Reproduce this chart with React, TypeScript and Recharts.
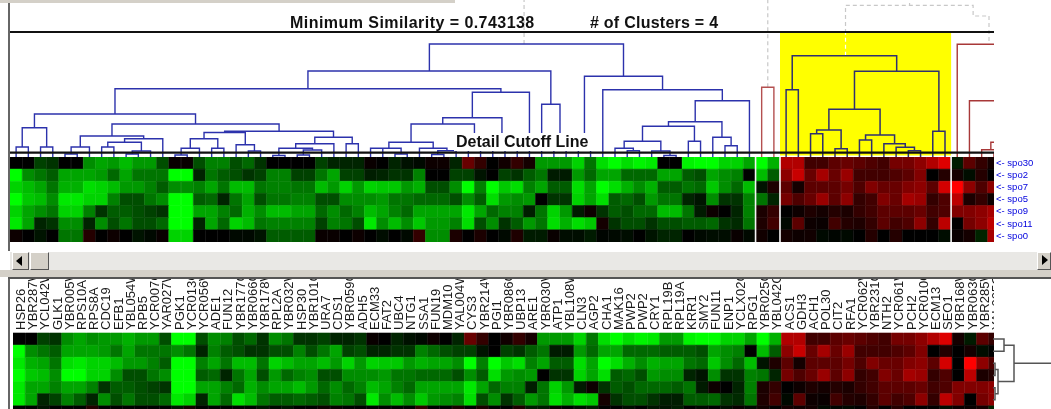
import React from "react";
import {
  BarChart,
  Bar,
  Cell,
  LineChart,
  Line,
  XAxis,
  YAxis,
  ReferenceArea,
} from "recharts";

const genes = [
  "HSP26", "YBR287W", "YCL042W", "GLK1", "YBR005W", "RPS10A", "RPS8A", "CDC19", "EFB1", "YBL054W",
  "RPB5", "YCR007C", "YAR027W", "PGK1", "YCR013C", "YCR056W", "ADE1", "FUN12", "YBR177C", "YBR066C",
  "YBR178W", "RPL2A", "YBR032W", "HSP30", "YBR101C", "URA7", "CDS1", "YBR059C", "ADH5", "ECM33",
  "FAT2", "UBC4", "NTG1", "SSA1", "FUN19", "MDM10", "YAL004W", "CYS3", "YBR214W", "PGI1",
  "YBR086C", "UBP13", "ARE1", "YBR030W", "ATP1", "YBL108W", "CLN3", "AGP2", "CHA1", "MAK16",
  "PWP2", "PWP2", "CRY1", "RPL19B", "RPL19A", "KRR1", "SMY2", "FUN11", "ENP1", "YCLX02C",
  "RPG1", "YBR025C", "YBL042C", "ACS1", "GDH3", "ACH1", "POL30", "CIT2", "RFA1", "YCR062W",
  "YBR231C", "NTH2", "YCR061W", "PCH2", "YCR010C", "ECM13", "SEO1", "YBR168W", "YBR063C", "YBR285W",
  "YAL005C",
];

const spoLabels = ["spo30", "spo2", "spo7", "spo5", "spo9", "spo11", "spo0"];

// one list per gene, one value per spo row: negative is green, positive is red
const topCells = [
  [0, -10, -8, -10, -8, -9, 0.3], [0, -5, -7, -7.5, -6, -6, 0], [-2, -4, -6, -7, -5, -1, -0.5],
  [-1.5, -3, -4, -5, -4, -1.5, 0], [0, -6, -6.5, -9, -8, -5, -4], [0, -6, -6.5, -9, -8, -5, -4],
  [-5, -6, -8.5, -8, -4.5, -1, 1], [-6, -5.5, -8, -8, -1.5, -5, 0], [-5.5, -3.5, -7, -4.5, -3, -2.5, 0.3],
  [-7, -6, -5.5, -2.5, -3, -4, 0], [-5.5, -4, -5.5, -2.5, -2.5, -2.5, -0.5], [-5.5, -4, -4.5, -4, -2, -2.5, -0.2],
  [-2.5, -4, -3, -5, -1.5, -3.5, 0.2], [0.2, -10, -5, -10, -10, -10, -8], [0.2, -10, -5, -10, -10, -10, -8],
  [-2.5, -1, -4.5, -3, -6, -1, 0], [-4.5, -4, -6, -3.5, -6, -6, 0], [-4.5, -3, -4, -1, -4.5, -3.5, 0],
  [-2.5, -2.5, -7, -4, -3.5, -8, -0.2], [-3.5, -1.5, -7, -6, -6.5, -7, -0.2], [-1.5, -2, -4, -2.5, -5, -4, -0.5],
  [0, -4.5, -4.5, -4, -7, -4.5, -3], [0, -4.5, -4.5, -4, -7, -4.5, -3], [0, -2, -4, -4.5, -6, -4.5, -3],
  [0, -2, -4, -4.5, -6, -4.5, -3], [-2, -4, -7, -2.5, -3.5, -2, 0.2], [-1, -6, -5.5, -2.5, -5, -4.5, 0.2],
  [-1, -2, -8, -5, -3.5, -4, 0], [-1, -2, -5.5, -5, -4.5, -2.5, 0.3], [0.2, -0.8, -8, -5, -7, -9, 0],
  [0, -1, -7.5, -5.5, -6, -5, -0.3], [-1, -1.5, -7.5, -4, -4.5, -7, 0], [-0.4, -1.5, -5.5, -4, -3.5, -5, -0.2],
  [-0.2, -4.5, -6.5, -3.5, -6, -7.5, 1.5], [0.3, 0, -2.5, -3.5, -6, -5.5, -5], [0.3, 0, -2.5, -3.5, -6, -5.5, -5],
  [-1, -2, -5, -2.5, -6, -4.5, 0.7], [3.5, -2, -10, -5, -9, -8.5, 0], [1.5, -0.5, -4.5, -3, -6, -2.5, 0.7],
  [0, 0, -10, -8.5, -3.5, -5, 0], [0.4, -2, -7.5, -5.5, -4.5, -1.5, -0.2], [1.5, -1.5, -8.5, -5, -4.5, -3, 0.8],
  [0.5, -3, -4.5, -5.5, -0.8, -5.5, -0.7], [-5.5, -4, -6, 0, -4, -4, -0.7], [-5.5, -0.7, -3, -1.5, -8, -8.5, 0.2],
  [-5.5, -0.7, -3, -1.5, -5.5, -6.5, -0.3], [-8, -5.5, -8.5, -8, -0.7, -8.5, -0.3], [-4, -3.5, -6, -6, 0.3, -7.5, -0.7],
  [-8.5, -6, -10, -8.5, -1.5, 0.5, -0.1], [-10, -6, -8.5, -3, -3, -1.5, -0.2], [-8.5, -3.5, -6.5, -3.5, -2.5, -2.5, -0.3],
  [-9.5, -3.5, -5, -2.5, -3.5, -2.5, 0], [-9, -3.5, -6.5, -5.5, -3.5, -1.5, -0.5], [0, -6, -3, -4, -7, -2.5, -1],
  [0, -6, -3, -4, -7, -2.5, -1], [-9.5, -3, -4, -1, -4, -3, 0], [-10, -2.5, -3.5, -0.5, -0.7, -3, -0.2],
  [-10, -6, -7.5, -5, 0.3, -3.5, -0.3], [-8, -5, -5, -1.5, 0, -1.5, -0.3], [-8, -4.5, -3.5, -1.5, -1, -1.2, 0.2],
  [-6, 0, -7, -4.5, -4.5, -4, -0.2], [-10, -7, -0.5, -4, 0.7, 0.8, 0.4], [-6.5, -3, 0.8, -1, 1.5, 2, 0],
  [6.5, 5, 3, 4, 0, -0.2, 0.5], [6.5, 7.5, 0.5, 2.5, 0.3, 3, 0.3], [2, 3.5, 3, 3.5, 0.8, 0.3, 0.4],
  [2, 6, 3, 5.5, 0.5, 0.2, -0.2], [3, 3.5, 3, 3, 1, 2, -0.1], [3.5, 5.5, 4, 5, 0.7, 1, -0.2],
  [3, 2, 2.5, 1.5, 1.5, 0.8, 0], [2.5, 2, 4.5, 2, 2, 1.5, 1], [2, 2, 3.5, 4.5, 3, 3, 0],
  [4, 2.5, 3.5, 3.5, 3, 2, 1], [4, 3, 4.5, 6, 3, 2.5, 0], [5, 4.5, 5, 5.5, 3.5, 5, 0],
  [6.5, 0, 3, 1.5, 2, 1.5, 0], [8.5, 1, 8, 2.5, 2.5, 7, -0.3], [-0.7, 0.5, 10, 7, 4.5, 0, 0.2],
  [3, -0.3, 5, 0.7, 4.5, 4, 0.5], [1.5, 1, 2.5, 1.5, 5, 5, -1], [0.5, 0, 5, 0.3, 6, 7, 6],
];

const bottomCells = [
  [0, -10, -9, -10, -9, -9, 0], [0, -5, -6.5, -7.5, -6, -6, 0], [-2, -4, -6, -7, -6, -1, -0.5],
  [-1.5, -3, -4, -5, -4.5, -2, 0], [-5, -6, -8.5, -10, -6, -4.5, 0], [-6, -6, -9, -10, -6, -3, 0],
  [-5, -6, -8, -8, -4.5, -1, 1], [-5.5, -5.5, -8, -8, -1.5, -5, 0], [-5.5, -4, -7, -5, -3, -2.5, 0],
  [-6.5, -6, -5.5, -2.5, -3, -4, 0], [-5.5, -4, -5.5, -2.5, -2.5, -2.5, 0], [-5.5, -4, -4.5, -4, -2, -2.5, 0],
  [-2.5, -4, -3, -5, -1.5, -3.5, 0], [-10, -5, -10, -10, -10, -9, -0.5], [-10, -4, -10, -10, -10, -8, 0.5],
  [-2.5, -1, -4.5, -3, -6, -1, 0], [-5, -4.5, -6, -3.5, -6, -6, 0], [-4.5, -3, -4, -1, -4.5, -3.5, 0],
  [-2.5, -2.5, -7, -4, -3.5, -8.5, 0], [-3.5, -1.5, -7, -6, -6.5, -7, 0], [-1.5, -1.5, -4, -2.5, -5, -4, -0.5],
  [-5, -2.5, -8, -5.5, -6, -3, -0.2], [-4, -2.5, -7, -3.5, -6, -3, -0.5], [-1.5, -4.5, -6, -4.5, -7, -3.5, 0],
  [-1.5, -2.5, -6, -5, -5.5, -3, 0], [-2, -4, -7, -2.5, -3.5, -2.5, 0.3], [-1, -6, -5.5, -2.5, -5, -4.5, 0.2],
  [-1, -2, -8, -5, -3.5, -4, 0], [-1.5, -2.5, -5.5, -5, -4.5, -2.5, 0], [0.2, -1, -8, -5, -7, -9, 0],
  [0, -1, -7.5, -5.5, -6, -5, 0], [-1, -1.5, -7.5, -4, -4.5, -7, 0], [-0.4, -1.5, -5.5, -4, -3.5, -5, 0],
  [-0.2, -4.5, -6.5, -3.5, -6, -7.5, 1.5], [0.3, -3.5, -6, -3.5, -6, -5.5, 0], [0, -2.5, -6, -3.5, -6, -5, 0],
  [-1, -2, -5, -2.5, -6, -4.5, 0.7], [3.5, -2, -10, -5, -9, -8.5, 0], [1.5, -0.5, -4.5, -3, -6, -2.5, 0.7],
  [0, 0, -10, -8.5, -3.5, -5, 0], [0.4, -2, -7.5, -5.5, -4.5, -1.5, 0], [1.5, -1.5, -8.5, -5, -4.5, -3, 0.8],
  [0.5, -3, -4.5, -5.5, -0.8, -5.5, -0.7], [-5.5, -4, -6, 0, -4, -4, -0.7], [-5.5, -0.7, -3, -1.5, -8, -8.5, 0.2],
  [-5.5, -0.7, -3, -1.5, -5.5, -6.5, 0], [-8, -5.5, -8.5, -8, -0.7, -8.5, -0.3], [-4, -3.5, -6, -6, 0.3, -7.5, -0.7],
  [-8.5, -6, -10, -8.5, -1.5, 0.5, 0], [-10, -6, -8.5, -3, -3, -1.5, 0], [-8.5, -3.5, -6.5, -3.5, -2.5, -2.5, -0.3],
  [-9.5, -3.5, -5, -2.5, -3.5, -2.5, 0], [-9, -3.5, -6.5, -5.5, -3.5, -1.5, -0.5], [-5.5, -3, -6, -5, -3.5, -0.8, -0.5],
  [-5.5, -3, -6, -5, -3, -0.8, -0.8], [-9.5, -3, -4, -1, -4, -3, 0], [-10, -2.5, -3.5, -0.5, -0.7, -3, -0.2],
  [-10, -6, -7.5, -5, 0.3, -3.5, 0], [-8, -5, -5, -1.5, 0, -1.5, -0.3], [-8, -4.5, -3.5, -1.5, -1, -1.2, 0.2],
  [-6, 0, -7, -4.5, -4.5, -4, -0.2], [-10, -7, -0.5, -4, 0.7, 0.8, 0.4], [-6.5, -3, 0.8, -1, 1.5, 2, 0],
  [6.5, 5, 3, 4, 0, -0.2, 0.5], [6.5, 7.5, 0.5, 2.5, 0.3, 3, 0.3], [2, 3.5, 3, 3.5, 0.8, 0.3, 0.4],
  [2, 6, 3, 5.5, 0.5, 0.2, -0.2], [3, 3.5, 3, 3, 1, 2, -0.1], [3.5, 5.5, 4, 5, 0.7, 1, -0.2],
  [3, 2, 2.5, 1.5, 1.5, 0.8, 0], [2.5, 2, 4.5, 2, 2, 1.5, 1], [2, 2, 3.5, 4.5, 3, 3, 0],
  [4, 2.5, 3.5, 3.5, 3, 2, 1], [4, 3, 4.5, 6, 3, 2.5, 0], [5, 4.5, 5, 5.5, 3.5, 5, 0],
  [6.5, 0, 3, 1.5, 2, 1.5, 0], [8.5, 1, 8, 2.5, 2.5, 7, -0.3], [0.5, 0, 0, 0, 4.5, 4.5, 0.2],
  [-0.7, 0.5, 10, 7, 4.5, 0, 0.2], [3, -0.3, 5, 0.7, 4.5, 4, 0.5], [1.5, 0, 2.5, 1, 5, 5, -1],
];

// cluster trees: [height, left, right], a plain number is a leaf column
const blueTree = [113,
  [86,
    [68.3,
      [43,
        [29.3, [10, 0, 1], [10, 2, 3]],
        [33,
          [21, [10, [3, 4, 5], 6], [18.3, [14.7, [10, 7, 8], [6, [3, 9, 10], 11]], 12]],
          [25.7,
            [24.5, [18.3, [8.7, [2, 13, 14], 15], [8.7, 16, 17]], [12.3, 18, [6, 19, 20]]],
            [19.7, [13.3, [8.7, [1.5, 21, 22], [7, [2, 23, 24], 25]], 26], [13.3, 27, 28]],
          ],
        ],
      ],
      [64.7,
        [39.3,
          [33,
            [14.7, [8.7, [8.7, 29, 30], [3, 31, 32]], [8.7, 33, [6.3, [2.5, 34, 35], 36]]],
            [17, 37, 38],
          ],
          [17, 39, [12, 40, 41]],
        ],
        42,
      ],
    ],
    [52.7, 43, [17, 44, 45]],
  ],
  [80.7,
    [17, 46, 47],
    [67.3,
      48,
      [56.3,
        [35.3,
          [30.7,
            [15.7, [8.7, 49, [6.3, 50, 51]], [6, 52, [1.5, 53, 54]]],
            [15.7, 55, 56],
          ],
          [19.7, 57, [11.3, 58, 59]],
        ],
        60,
      ],
    ],
  ],
];
const smallTree = [69.7, 61, 62];
const yellowTree = [101.3,
  [67.3, 63, 64],
  [85.7,
    [47.7,
      [27, [23.3, 65, 66], [8.3, 67, 68]],
      [22, [17, 69, 70], [13.3, 71, [9.7, 72, [6.3, 73, 74]]]],
    ],
    [25.7, 75, 76],
  ],
];
const rightTree = [112.7, 77, [56.3, 78, [40, [14.7, [7.3, 79, [3, 80, 81]], 82], 91]]];
const rowTree = [21, [11, 0, 1], [5, [2, 2, 3], [2, 4, 5]]];

// links above the 0.743 cutoff, read as [column, height]
const upperLinks = [
  [[42.06, 113], [42.06, 157]],
  [[62, 69.7], [62, 157]],
  [[68.36, 124], [68.36, 151.7], [78.8, 151.7], [78.8, 141], [80.1, 141], [80.1, 113]],
  [[73.6, 151.7], [73.6, 154]],
];
const yellowLink = [[68.36, 101.3], [68.36, 124]];
const clusterEdges = [61, 63, 77];
const similarityLineHeight = 125;
const detailLineHeight = 4.3;

type Point = { col: number; h: number | null };

// walks a tree and lists its elbows, with a null after each one to break the line
const treePoints = (node: any, out: Point[] = []): { pos: number; h: number } => {
  if (typeof node === "number") return { pos: node + 0.5, h: 0 };
  const [h, leftNode, rightNode] = node;
  const left = treePoints(leftNode, out);
  const right = treePoints(rightNode, out);
  out.push(
    { col: left.pos, h: left.h },
    { col: left.pos, h },
    { col: right.pos, h },
    { col: right.pos, h: right.h },
    { col: right.pos, h: null }
  );
  return { pos: (left.pos + right.pos) / 2, h };
};

const treeLine = (tree: any) => {
  const out: Point[] = [];
  treePoints(tree, out);
  return out;
};

const linkLine = (links: number[][][]) =>
  links.flatMap((link) => [
    ...link.map(([col, h]) => ({ col, h })),
    { col: link[0][0], h: null },
  ]);

const cellColor = (v: number) => {
  const level = Math.round(255 * Math.pow(Math.abs(v) / 10, 0.85));
  return v < 0 ? `rgb(0,${level},0)` : `rgb(${level},0,0)`;
};

const GeneTick = ({ x, payload }: any) => (
  <text
    x={x + 6}
    y={51}
    transform={`rotate(-90 ${x + 6} 51)`}
    fontFamily="Liberation Sans"
    fontSize={13}
    fill="#1a1a1a"
  >
    {payload.value}
  </text>
);

const HeatMap = ({ cells, width, height, labelled }: any) => {
  const table = genes.map((gene) => {
    const row: any = { gene };
    spoLabels.forEach((label) => (row[label] = 1));
    return row;
  });
  return (
    <BarChart
      width={width}
      height={height}
      data={table}
      barCategoryGap={0}
      margin={{ top: 0, right: 0, bottom: 0, left: 0 }}
    >
      <XAxis
        dataKey="gene"
        orientation="top"
        hide={!labelled}
        height={54}
        axisLine={false}
        tickLine={false}
        interval={0}
        tick={<GeneTick />}
      />
      <YAxis hide reversed type="number" domain={[0, 7]} />
      {spoLabels.map((label, row) => (
        <Bar key={label} dataKey={label} stackId="heat" isAnimationActive={false}>
          {/* the stroke closes the seams that the floored bar width leaves */}
          {cells.map((column: number[], i: number) => (
            <Cell key={i} fill={cellColor(column[row])} stroke={cellColor(column[row])} strokeWidth={0.6} />
          ))}
        </Bar>
      ))}
    </BarChart>
  );
};

const Dendrogram = () => (
  <LineChart width={990} height={242} margin={{ top: 0, right: 0, bottom: 0, left: 0 }}>
    <XAxis hide type="number" dataKey="col" domain={[0, 81]} allowDataOverflow />
    <YAxis hide type="number" domain={[-85, 157]} allowDataOverflow />
    <ReferenceArea x1={63} x2={77} y1={1.5} y2={124} fill="#ffff00" fillOpacity={1} stroke="none" />
    <Line
      data={linkLine(clusterEdges.map((col) => [[col, 0], [col, -85]]))}
      dataKey="h"
      stroke="#f4f4f4"
      strokeWidth={1.6}
      dot={false}
      isAnimationActive={false}
    />
    <Line
      data={linkLine(upperLinks)}
      dataKey="h"
      stroke="#c8c8c8"
      strokeWidth={1.2}
      strokeDasharray="4 3"
      dot={false}
      isAnimationActive={false}
    />
    <Line
      data={linkLine([yellowLink])}
      dataKey="h"
      stroke="#ffffff"
      strokeWidth={1.2}
      strokeDasharray="4 3"
      dot={false}
      isAnimationActive={false}
    />
    <Line data={treeLine(blueTree)} dataKey="h" stroke="#2c32ac" strokeWidth={1.4} dot={false} isAnimationActive={false} />
    <Line data={treeLine(yellowTree)} dataKey="h" stroke="#2f3070" strokeWidth={1.5} dot={false} isAnimationActive={false} />
    <Line data={treeLine(smallTree)} dataKey="h" stroke="#b45050" strokeWidth={1.4} dot={false} isAnimationActive={false} />
    <Line data={treeLine(rightTree)} dataKey="h" stroke="#a83838" strokeWidth={1.4} dot={false} isAnimationActive={false} />
    <Line
      data={linkLine([[[0, similarityLineHeight], [81, similarityLineHeight]]])}
      dataKey="h"
      stroke="#111111"
      strokeWidth={2.2}
      dot={false}
      isAnimationActive={false}
    />
    <Line
      data={linkLine([[[0, detailLineHeight], [81, detailLineHeight]]])}
      dataKey="h"
      stroke="#111111"
      strokeWidth={2.2}
      dot={false}
      isAnimationActive={false}
    />
  </LineChart>
);

// the small tree of the spo rows, to the right of the lower map
const RowTree = () => {
  const walk = (node: any, out: any[]): { pos: number; h: number } => {
    if (typeof node === "number") return { pos: node + 0.5, h: 0 };
    const [h, a, b] = node;
    const left = walk(a, out);
    const right = walk(b, out);
    out.push(
      { depth: left.h, row: left.pos },
      { depth: h, row: left.pos },
      { depth: h, row: right.pos },
      { depth: right.h, row: right.pos },
      { depth: right.h, row: null }
    );
    return { pos: (left.pos + right.pos) / 2, h };
  };
  const points: any[] = [];
  const root = walk(rowTree, points);
  points.push({ depth: root.h, row: root.pos }, { depth: 58, row: root.pos });
  return (
    <LineChart width={58} height={85} margin={{ top: 0, right: 0, bottom: 0, left: 0 }}>
      <XAxis hide type="number" dataKey="depth" domain={[0, 58]} />
      <YAxis hide reversed type="number" domain={[0, 7]} />
      <Line data={points} dataKey="row" stroke="#555555" strokeWidth={1.5} dot={false} isAnimationActive={false} />
    </LineChart>
  );
};

const titleFont: React.CSSProperties = {
  position: "absolute",
  fontFamily: "Liberation Sans",
  fontWeight: 700,
  fontSize: 16,
  lineHeight: "18px",
  color: "#111111",
  whiteSpace: "pre",
};

const box = (left: number, top: number, width: number, height: number, background: string): React.CSSProperties => ({
  position: "absolute",
  left,
  top,
  width,
  height,
  background,
});

const raised: React.CSSProperties = {
  borderTop: "1px solid #ffffff",
  borderLeft: "1px solid #ffffff",
  borderRight: "1px solid #555555",
  borderBottom: "1px solid #555555",
  boxSizing: "border-box",
};

export default function App() {
  return (
    <div style={{ position: "fixed", left: 0, top: 0, width: 1051, height: 409, overflow: "hidden", background: "#ffffff", filter: "blur(0.4px)" }}>
      <style>{"body{margin:0}"}</style>
      <div style={box(0, 0, 455, 3, "#d4d0c8")} />
      <div style={box(8, 3, 2, 248, "#666666")} />

      <div style={{ ...box(10, 157, 984, 85, "none"), overflow: "hidden" }}>
        <HeatMap cells={topCells} width={990} height={85} />
      </div>
      <div style={{ ...box(10, 0, 984, 242, "none"), overflow: "hidden" }}>
        <Dendrogram />
      </div>

      <div style={{ ...titleFont, left: 290, top: 14, letterSpacing: 0.45 }}>Minimum Similarity = 0.743138</div>
      <div style={{ ...titleFont, left: 590, top: 14, letterSpacing: 0.25 }}># of Clusters = 4</div>
      <div style={{ ...titleFont, ...box(454, 133, 138, 18, "#ffffff"), paddingLeft: 2 }}>Detail Cutoff Line</div>

      {spoLabels.map((label, row) => (
        <div
          key={label}
          style={{
            position: "absolute",
            left: 996,
            top: 156.5 + row * 12.2,
            fontFamily: "Liberation Sans",
            fontSize: 9.5,
            lineHeight: "12px",
            color: "#0000dd",
            whiteSpace: "pre",
          }}
        >
          {`<- ${label}`}
        </div>
      ))}

      <div style={box(10, 252, 1041, 18, "#e9e8e5")} />
      <div style={box(0, 270, 1051, 7, "#d4d0c8")} />
      <div style={{ ...box(12, 252, 17, 18, "#d4d0c8"), ...raised }} />
      <div style={{ position: "absolute", left: 16, top: 256, width: 0, height: 0, borderTop: "5px solid transparent", borderBottom: "5px solid transparent", borderRight: "6px solid #000000" }} />
      <div style={{ ...box(30, 252, 19, 18, "#d4d0c8"), ...raised }} />
      <div style={{ ...box(1037, 252, 14, 18, "#d4d0c8"), ...raised }} />
      <div style={{ position: "absolute", left: 1042, top: 255, width: 0, height: 0, borderTop: "5px solid transparent", borderBottom: "5px solid transparent", borderLeft: "6px solid #000000" }} />

      <div style={box(8, 277, 1043, 2, "#555555")} />
      <div style={box(8, 279, 2, 130, "#666666")} />
      <div style={{ ...box(13, 279, 981, 130, "none"), overflow: "hidden" }}>
        <HeatMap cells={bottomCells} width={988} height={139} labelled />
      </div>
      <div style={box(993, 333, 58, 85, "none")}>
        <RowTree />
      </div>
    </div>
  );
}
